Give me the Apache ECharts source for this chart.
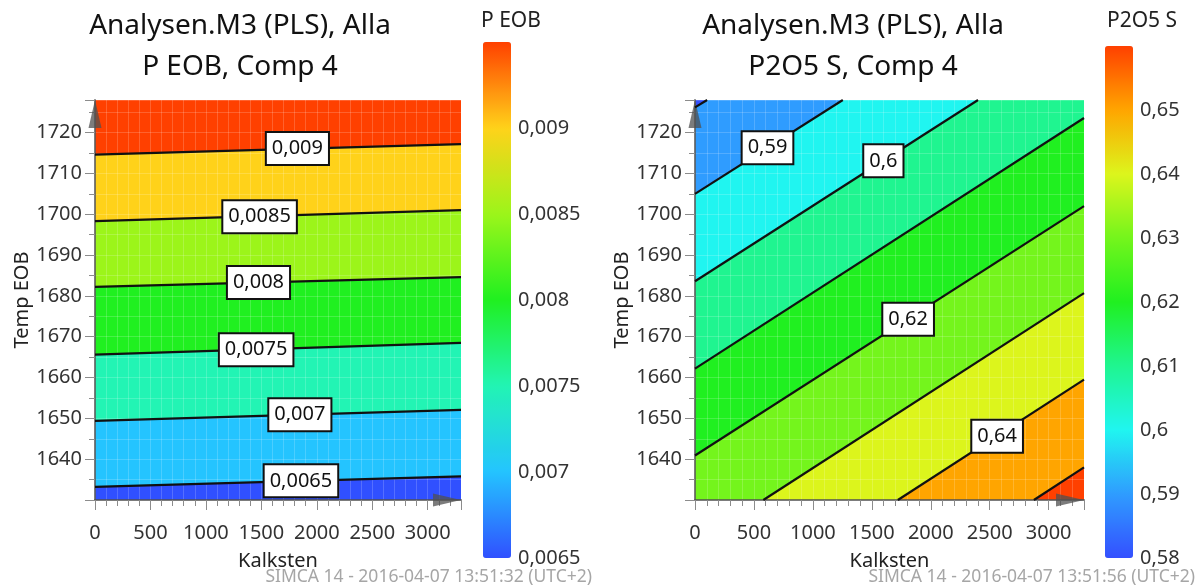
<!DOCTYPE html>
<html>
<head>
<meta charset="utf-8">
<title>Analysen.M3 (PLS), Alla</title>
<script src="https://cdn.jsdelivr.net/npm/echarts@6/dist/echarts.min.js"></script>
<style>
  html, body { margin: 0; padding: 0; background: #fff; }
  #main { width: 1198px; height: 588px; }
</style>
</head>
<body>
<div id="main"></div>
<script>
// axis ranges
const kalkMax = 3300;
const tempMin = 1630;
const tempMax = 1728;

// P EOB: contour levels, each contour as [[Kalksten, Temp], [Kalksten, Temp]]
const peobLevels = [0.0065, 0.007, 0.0075, 0.008, 0.0085, 0.009];
const peobLines = [
    [[0, 1633.2], [3300, 1635.8]],
    [[0, 1649.4], [3300, 1652.1]],
    [[0, 1665.6], [3300, 1668.5]],
    [[0, 1682.2], [3300, 1684.6]],
    [[0, 1698.3], [3300, 1701.0]],
    [[0, 1714.6], [3300, 1717.2]]
];
// label box centres [Kalksten, Temp, level index]
const peobLabels = [
    [1857, 1634.7, 0],
    [1847, 1650.9, 1],
    [1453, 1666.8, 2],
    [1474, 1683.3, 3],
    [1484, 1699.4, 4],
    [1825, 1716.1, 5]
];
const peobRange = [0.0065, 0.0095];
const peobColors = ['#3050ff', '#24c4ff', '#22f4b4', '#20f020', '#9cf51a', '#ffd21a', '#ff4000'];

// P2O5 S
const p2o5Levels = [0.58, 0.59, 0.6, 0.61, 0.62, 0.63, 0.64, 0.65];
const p2o5Lines = [
    [[0, 1726.2], [103, 1728]],
    [[0, 1705.0], [1254, 1728]],
    [[0, 1683.6], [2401, 1728]],
    [[0, 1662.2], [3300, 1723.6]],
    [[0, 1640.9], [3300, 1702.0]],
    [[580, 1630], [3300, 1680.7]],
    [[1721, 1630], [3300, 1659.5]],
    [[2875, 1630], [3300, 1638.0]]
];
const p2o5Labels = [
    [615, 1716.3, 1],
    [1598, 1713.1, 2],
    [1808, 1674.3, 4],
    [2563, 1645.6, 6]
];
const p2o5Range = [0.58, 0.66];
const p2o5Colors = ['#3450ff', '#2f9cff', '#20f5f0', '#1ff590', '#20f020', '#74f51c', '#dcf51c', '#ffa500', '#ff4000'];

const fmt = v => String(+(+v).toFixed(5)).replace('.', ',');

// clip polygon to rectangle (Sutherland-Hodgman)
function clipPoly(pts, x0, y0, x1, y1) {
    const planes = [[0, x0, 1], [0, x1, -1], [1, y0, 1], [1, y1, -1]];
    planes.forEach(([k, c, s]) => {
        const out = [];
        for (let i = 0; i < pts.length; i++) {
            const a = pts[i], b = pts[(i + 1) % pts.length];
            const ina = (a[k] - c) * s >= 0, inb = (b[k] - c) * s >= 0;
            if (ina) out.push(a);
            if (ina !== inb) {
                const t = (c - a[k]) / (b[k] - a[k]);
                out.push([a[0] + t * (b[0] - a[0]), a[1] + t * (b[1] - a[1])]);
            }
        }
        pts = out;
    });
    return pts;
}

// band i = region above contour i-1 (on the side of highCorner)
function bandRenderer(lines, highCorner) {
    return function (params, api) {
        const i = api.value(0);
        const cs = params.coordSys;
        const x0 = cs.x, y0 = cs.y, x1 = cs.x + cs.width, y1 = cs.y + cs.height;
        let poly = [[x0, y0], [x1, y0], [x1, y1], [x0, y1]];
        if (i > 0) {
            const p1 = api.coord(lines[i - 1][0]), p2 = api.coord(lines[i - 1][1]);
            const hc = api.coord(highCorner);
            let dx = p2[0] - p1[0], dy = p2[1] - p1[1];
            const len = Math.hypot(dx, dy);
            dx /= len; dy /= len;
            let nx = -dy, ny = dx;
            if (nx * (hc[0] - p1[0]) + ny * (hc[1] - p1[1]) < 0) { nx = -nx; ny = -ny; }
            const L = 3000;
            const a = [p1[0] - dx * L, p1[1] - dy * L], b = [p2[0] + dx * L, p2[1] + dy * L];
            poly = clipPoly([a, b, [b[0] + nx * L, b[1] + ny * L], [a[0] + nx * L, a[1] + ny * L]], x0, y0, x1, y1);
        }
        return { type: 'polygon', shape: { points: poly }, style: { fill: api.visual('color') } };
    };
}

function lineRenderer(params, api) {
    const p1 = api.coord([api.value(0), api.value(1)]);
    const p2 = api.coord([api.value(2), api.value(3)]);
    return { type: 'polyline', shape: { points: [p1, p2] }, style: { stroke: '#111', lineWidth: 2.2, fill: 'none' } };
}

function labelRenderer(levels) {
    return function (params, api) {
        const p = api.coord([api.value(0), api.value(1)]);
        return {
            type: 'text', x: p[0], y: p[1],
            style: {
                text: fmt(levels[api.value(2)]), fontSize: 20, fontFamily: 'Noto Sans', fill: '#111',
                align: 'center', verticalAlign: 'middle',
                backgroundColor: '#fff', borderColor: '#111', borderWidth: 2, padding: [6, 5, 5, 5]
            }
        };
    };
}

function bandData(levels, range) {
    const out = [];
    for (let i = 0; i <= levels.length; i++) out.push([i, i < levels.length ? levels[i] : range[1]]);
    return out;
}

const axisGrey = 'rgba(80,80,80,0.75)';
const tickGrey = '#8c8c8c';

function plotXAxis(gridIndex) {
    return {
        gridIndex: gridIndex, type: 'value', min: 0, max: kalkMax, interval: 500, z: 3,
        name: 'Kalksten', nameLocation: 'middle', nameGap: 51,
        nameTextStyle: { fontSize: 20, color: '#222' },
        axisLine: { show: true, onZero: false, symbol: ['none', 'triangle'], symbolSize: [13, 28], symbolOffset: [0, -14],
            lineStyle: { color: axisGrey, width: 2 } },
        axisTick: { length: 10, lineStyle: { color: tickGrey } },
        minorTick: { show: true, splitNumber: 5, length: 6, lineStyle: { color: tickGrey } },
        axisLabel: { fontSize: 20, color: '#333', margin: 23, showMaxLabel: false, formatter: v => String(v) },
        splitLine: { show: true, lineStyle: { color: 'rgba(255,255,255,0.18)' } },
        minorSplitLine: { show: true, lineStyle: { color: 'rgba(255,255,255,0.18)' } }
    };
}

function plotYAxis(gridIndex) {
    return {
        gridIndex: gridIndex, type: 'value', min: tempMin, max: tempMax, interval: 10, z: 3,
        name: 'Temp EOB', nameLocation: 'middle', nameGap: 57,
        nameTextStyle: { fontSize: 20, color: '#222' },
        axisLine: { show: true, onZero: false, symbol: ['none', 'triangle'], symbolSize: [13, 28], symbolOffset: [0, -14],
            lineStyle: { color: axisGrey, width: 2 } },
        axisTick: { length: 10, lineStyle: { color: tickGrey } },
        minorTick: { show: true, splitNumber: 2, length: 6, lineStyle: { color: tickGrey } },
        axisLabel: { fontSize: 20, color: '#333', margin: 13, showMinLabel: false, showMaxLabel: false, formatter: v => String(v) },
        splitLine: { show: true, lineStyle: { color: 'rgba(255,255,255,0.18)' } },
        minorSplitLine: { show: true, lineStyle: { color: 'rgba(255,255,255,0.18)' } }
    };
}

function barYAxis(gridIndex, range, interval) {
    return {
        gridIndex: gridIndex, type: 'value', min: range[0], max: range[1], interval: interval, position: 'right',
        axisLine: { show: false }, axisTick: { show: false }, splitLine: { show: false },
        axisLabel: { fontSize: 20, color: '#333', margin: 7, formatter: fmt, showMaxLabel: false }
    };
}

var chart = echarts.init(document.getElementById('main'));
var option = {
    animation: false,
    backgroundColor: '#fff',
    textStyle: { fontFamily: 'Noto Sans' },
    grid: [
        { left: 95, top: 100, width: 366, height: 400, outerBoundsMode: 'none' },
        { left: 695, top: 100, width: 389, height: 400, outerBoundsMode: 'none' },
        { left: 483, top: 42, width: 28, height: 516, outerBoundsMode: 'none' },
        { left: 1105, top: 46, width: 28, height: 512, outerBoundsMode: 'none' }
    ],
    xAxis: [
        plotXAxis(0), plotXAxis(1),
        { gridIndex: 2, type: 'value', show: false },
        { gridIndex: 3, type: 'value', show: false }
    ],
    yAxis: [
        plotYAxis(0), plotYAxis(1),
        barYAxis(2, peobRange, 0.0005),
        barYAxis(3, p2o5Range, 0.01)
    ],
    visualMap: [
        { type: 'continuous', seriesIndex: 0, dimension: 1, min: peobRange[0], max: peobRange[1],
          inRange: { color: peobColors }, orient: 'vertical', left: 483, top: 42,
          itemWidth: 28, itemHeight: 516, padding: 0, calculable: false, hoverLink: false },
        { type: 'continuous', seriesIndex: 1, dimension: 1, min: p2o5Range[0], max: p2o5Range[1],
          inRange: { color: p2o5Colors }, orient: 'vertical', left: 1105, top: 46,
          itemWidth: 28, itemHeight: 512, padding: 0, calculable: false, hoverLink: false }
    ],
    series: [
        { type: 'custom', xAxisIndex: 0, yAxisIndex: 0, z: 1, silent: true,
          renderItem: bandRenderer(peobLines, [0, tempMax]), data: bandData(peobLevels, peobRange) },
        { type: 'custom', xAxisIndex: 1, yAxisIndex: 1, z: 1, silent: true,
          renderItem: bandRenderer(p2o5Lines, [kalkMax, tempMin]), data: bandData(p2o5Levels, p2o5Range) },
        { type: 'custom', xAxisIndex: 0, yAxisIndex: 0, z: 4, silent: true, renderItem: lineRenderer,
          encode: { x: [0, 2], y: [1, 3] },
          data: peobLines.map(l => [l[0][0], l[0][1], l[1][0], l[1][1]]) },
        { type: 'custom', xAxisIndex: 1, yAxisIndex: 1, z: 4, silent: true, renderItem: lineRenderer,
          encode: { x: [0, 2], y: [1, 3] },
          data: p2o5Lines.map(l => [l[0][0], l[0][1], l[1][0], l[1][1]]) },
        { type: 'custom', xAxisIndex: 0, yAxisIndex: 0, z: 5, silent: true,
          renderItem: labelRenderer(peobLevels), encode: { x: 0, y: 1 }, data: peobLabels },
        { type: 'custom', xAxisIndex: 1, yAxisIndex: 1, z: 5, silent: true,
          renderItem: labelRenderer(p2o5Levels), encode: { x: 0, y: 1 }, data: p2o5Labels }
    ],
    graphic: [
        { type: 'text', x: 240, y: 47, style: { text: 'Analysen.M3 (PLS), Alla\nP EOB, Comp 4',
          fontSize: 28, fontFamily: 'Noto Sans', fill: '#111', align: 'center', verticalAlign: 'middle', lineHeight: 41 } },
        { type: 'text', x: 853, y: 47, style: { text: 'Analysen.M3 (PLS), Alla\nP2O5 S, Comp 4',
          fontSize: 28, fontFamily: 'Noto Sans', fill: '#111', align: 'center', verticalAlign: 'middle', lineHeight: 41 } },
        { type: 'text', x: 481, y: 21, style: { text: 'P EOB', fontSize: 21, fontFamily: 'Noto Sans', fill: '#222',
          align: 'left', verticalAlign: 'middle' } },
        { type: 'text', x: 1107, y: 21, style: { text: 'P2O5 S', fontSize: 21, fontFamily: 'Noto Sans', fill: '#222',
          align: 'left', verticalAlign: 'middle' } },
        { type: 'text', x: 592, y: 577, style: { text: 'SIMCA 14 - 2016-04-07 13:51:32 (UTC+2)', fontSize: 17.5,
          fontFamily: 'Noto Sans', fill: '#a6a6a6', align: 'right', verticalAlign: 'middle' } },
        { type: 'text', x: 1195, y: 577, style: { text: 'SIMCA 14 - 2016-04-07 13:51:56 (UTC+2)', fontSize: 17.5,
          fontFamily: 'Noto Sans', fill: '#a6a6a6', align: 'right', verticalAlign: 'middle' } }
    ]
};
chart.setOption(option);
</script>
</body>
</html>
